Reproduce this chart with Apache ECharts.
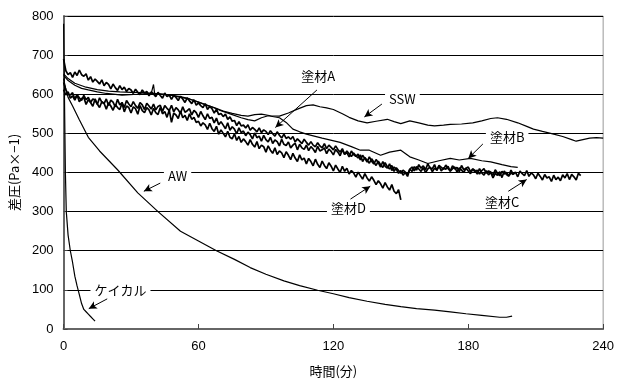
<!DOCTYPE html>
<html><head><meta charset="utf-8">
<script src="https://cdn.jsdelivr.net/npm/echarts@6/dist/echarts.min.js"></script>
<style>html,body{margin:0;padding:0;background:#fff}#c{width:617px;height:383px}</style>
</head><body><div id="c"></div>
<script>
// x tick labels (minutes) and y range
const xTicks = [0, 60, 120, 180, 240];
const yTicks = [0, 100, 200, 300, 400, 500, 600, 700, 800];

// sampling step (minutes) for the noisy recorded series
const STEP = 1;

// 塗材A (noisy, upper band)
const coatA = [
690,660,650,655,643,657,648,662,650,646,
652,636,645,631,639,633,626,637,622,630,
625,614,626,617,610,622,612,618,607,615,
611,602,613,605,599,611,603,607,596,606,
601,594,605,597,590,603,594,598,587,597,
592,584,595,588,579,591,583,576,586,572,
578,571,566,576,561,569,563,552,562,548,
551,543,549,536,542,531,533,520,530,519,
521,514,522,508,515,510,504,514,502,509,
505,497,507,499,493,504,495,488,498,487,
491,485,492,478,486,480,474,485,477,470,
479,470,466,476,468,463,474,461,470,464,
458,468,459,452,461,446,455,448,441,450,
443,437,445,428,438,431,424,435,426,418,
429,420,413,425,415,409,418,403,412,405,
398,406,401,395,408,414,404,415,409,403,
412,400,409,414,402,411,407,416,404,412,
408,416,403,410,414,401,412,406,400,411,
404,397,409,401,406,396,405,410,398,404,
401,393,407,398,392,403,396,400,391,399,
395];

// 塗材C (noisy, middle band, longest)
const coatC = [
630,612,600,598,604,588,599,591,584,597,
586,592,579,588,585,574,591,580,576,588,
571,585,580,568,587,573,579,566,584,575,
568,581,571,564,579,573,561,577,570,562,
575,560,569,572,556,571,564,558,572,555,
566,560,551,568,554,558,563,547,559,553,
541,556,545,535,550,538,541,527,539,522,
530,521,512,527,508,517,511,499,514,502,
506,494,503,497,486,501,489,493,480,495,
484,478,490,474,483,479,468,485,472,469,
478,463,470,475,458,472,463,459,470,456,
466,460,451,467,455,458,463,448,460,454,
445,459,452,443,458,447,451,440,455,446,
441,447,432,444,436,427,440,429,422,433,
425,414,428,416,411,422,405,414,408,398,
405,393,400,390,409,403,415,406,420,411,
417,407,422,412,409,420,405,418,413,408,
419,410,404,417,409,413,402,418,407,411,
414,402,409,405,396,410,399,393,405,394,
400,386,398,393,402,387,404,395,391,406,
395,401,389,404,397,392,405,390,399,394,
384,398,390,381,395,386,389,377,393,382,
388,379,394,386,397,382,395,389,381,398,
392];

// 塗材D (noisy, lowest, ends at 150 min)
const coatD = [
612,598,606,590,596,585,598,581,589,592,
574,586,579,569,588,575,566,581,577,562,
578,570,559,574,566,561,577,555,570,566,
552,568,563,549,571,558,553,566,560,547,
564,553,548,566,550,556,541,560,528,552,
547,538,557,540,546,533,550,536,541,528,
531,519,527,522,510,526,512,505,518,498,
509,500,491,505,490,486,499,482,492,477,
486,479,470,484,472,465,479,461,470,466,
452,468,457,449,463,446,455,450,438,453,
444,433,449,437,428,445,432,437,422,436,
428,417,434,421,413,429,418,410,425,416,
404,419,409,400,416,403,411,396,405,399,
388,401,392,383,397,386,378,389,380,369,
379,371,360,374,363,355,369,352,346,356,
330];

// 塗材B (smoother) [minutes, value]
const coatB = [[0,648],[2,635],[5,623],[8,615],[11,611],[15,606],[19,602],[26,598],[33,600],[39,602],[40,625],[40.5,602],[44,600],[48,597],[52,592],[56,588],[60,580],[65,570],[70,558],[75,548],[79,540],[82,535],[85,532],[88,540],[91,545],[96,540],[99,528],[102,511],[105,504],[108,498],[115,488],[123,477],[128,466],[132,457],[136,457],[141,444],[145,452],[150,457],[154,440],[158,432],[162,423],[167,430],[172,436],[176,432],[181,436],[186,430],[190,427],[195,420],[199,415],[202,413]];

// SSW [minutes, value]
const ssw = [[0,652],[2,640],[5,628],[10,618],[15,612],[20,608],[25,606],[30,605],[35,604],[40,602],[45,600],[52,594],[56,588],[60,580],[64,571],[67,566],[71,557],[75,551],[79,546],[82,544],[85,548],[88,549],[92,545],[96,544],[100,552],[104,562],[108,571],[111,573],[114,568],[117,565],[120,561],[124,550],[127,541],[131,532],[135,527],[139,531],[144,536],[147,530],[150,525],[154,532],[158,527],[162,521],[165,519],[169,521],[172,523],[177,524],[182,527],[186,532],[190,538],[193,540],[197,536],[202,527],[206,518],[209,511],[213,505],[218,498],[222,492],[226,484],[228,480],[231,484],[234,488],[237,489],[240,488]];

// AW [minutes, value]
const aw = [[0,640],[1,612],[2,592],[4,570],[7,535],[11,490],[16,455],[24,407],[33,348],[42,300],[52,250],[60,225],[68,200],[76,178],[83,157],[90,140],[98,123],[105,111],[113,99],[120,90],[127,80],[135,71],[143,63],[150,57],[157,52],[165,48],[172,44],[179,39],[186,35],[194,30],[197,30],[199.5,33]];

// ケイカル [minutes, value]
const keical = [[0,780],[0.2,690],[0.5,540],[0.8,400],[1.2,300],[2,240],[3,200],[4,170],[5,135],[6,110],[7,88],[8,65],[9,50],[10,44],[11,38],[12,32],[13,26],[14,20]];

// annotation labels: [text, label minutes, label value, arrow-from minutes, value, arrow-to minutes, value]
const notes = [
  ['塗材A', 113.3, 647, 112.7, 611, 94.2, 515],
  ['SSW', 150.7, 587, 141.6, 575, 133.8, 542],
  ['塗材B', 197.3, 490, 186.5, 473, 180, 436],
  ['塗材C', 195.1, 325, 197.8, 352, 206, 382],
  ['塗材D', 126.7, 310, 127.6, 332, 136.4, 365],
  ['AW', 50.7, 392, 43, 373, 35.7, 352],
  ['ケイカル', 25.3, 100, 19.4, 77, 11.2, 52]
];

const toPairs = arr => arr.map((v, i) => [i * STEP, v]);
const JP = '"Noto Sans CJK JP", "Noto Sans", sans-serif';
const LAT = '"Liberation Sans", Arial, sans-serif';

function lineSeries(name, data, w) {
  return { name, type: 'line', data, showSymbol: false, symbol: 'none', animation: false,
    lineStyle: { color: '#000', width: w }, z: 3 };
}

const chart = echarts.init(document.getElementById('c'), null, { renderer: 'canvas' });
chart.setOption({
  animation: false,
  backgroundColor: '#fff',
  grid: { left: 63, right: 13, top: 16, bottom: 47, show: true, borderColor: '#999', borderWidth: 1 },
  xAxis: {
    type: 'value', min: xTicks[0], max: xTicks[xTicks.length - 1], interval: 60,
    name: '時間(分)', nameLocation: 'middle', nameGap: 36,
    nameTextStyle: { fontFamily: JP, fontSize: 13, color: '#000' },
    axisLine: { show: true, onZero: false, lineStyle: { color: '#666', width: 2 } },
    axisTick: { show: true, inside: true, length: 5, lineStyle: { color: '#444' } },
    axisLabel: { fontFamily: LAT, fontSize: 13, color: '#000', margin: 11 },
    splitLine: { show: false }
  },
  yAxis: {
    type: 'value', min: yTicks[0], max: yTicks[yTicks.length - 1], interval: 100,
    name: '差圧(Pa×−1)', nameLocation: 'middle', nameGap: 42, nameRotate: 90,
    nameTextStyle: { fontFamily: JP, fontSize: 13, color: '#000' },
    axisLine: { show: true, lineStyle: { color: '#666', width: 2 } },
    axisTick: { show: true, inside: true, length: 4, lineStyle: { color: '#444' } },
    axisLabel: { fontFamily: LAT, fontSize: 13, color: '#000', margin: 10 },
    splitLine: { show: true, lineStyle: { color: '#000', width: 1 } }
  },
  series: [
    lineSeries('ケイカル', keical, 1.2),
    lineSeries('AW', aw, 1.2),
    lineSeries('SSW', ssw, 1.2),
    lineSeries('塗材B', coatB, 1.2),
    lineSeries('塗材A', toPairs(coatA), 1.7),
    lineSeries('塗材C', toPairs(coatC), 1.7),
    lineSeries('塗材D', toPairs(coatD), 1.7),
    {
      name: 'notes', type: 'line', data: [], z: 5, animation: false,
      markLine: {
        silent: true, animation: false, symbol: ['none', 'arrow'], symbolSize: [6, 8],
        lineStyle: { color: '#000', width: 1, type: 'solid' }, label: { show: false },
        data: notes.map(n => [{ coord: [n[3], n[4]] }, { coord: [n[5], n[6]] }])
      },
      markPoint: {
        silent: true, animation: false, symbol: 'circle', symbolSize: 1,
        itemStyle: { color: 'rgba(0,0,0,0)' },
        label: { show: true, position: 'inside', color: '#000', fontFamily: JP, fontSize: 13,
          backgroundColor: '#fff', padding: [1, 4], formatter: p => p.name },
        data: notes.map(n => ({ name: n[0], coord: [n[1], n[2]] }))
      }
    }
  ]
});
</script></body></html>
